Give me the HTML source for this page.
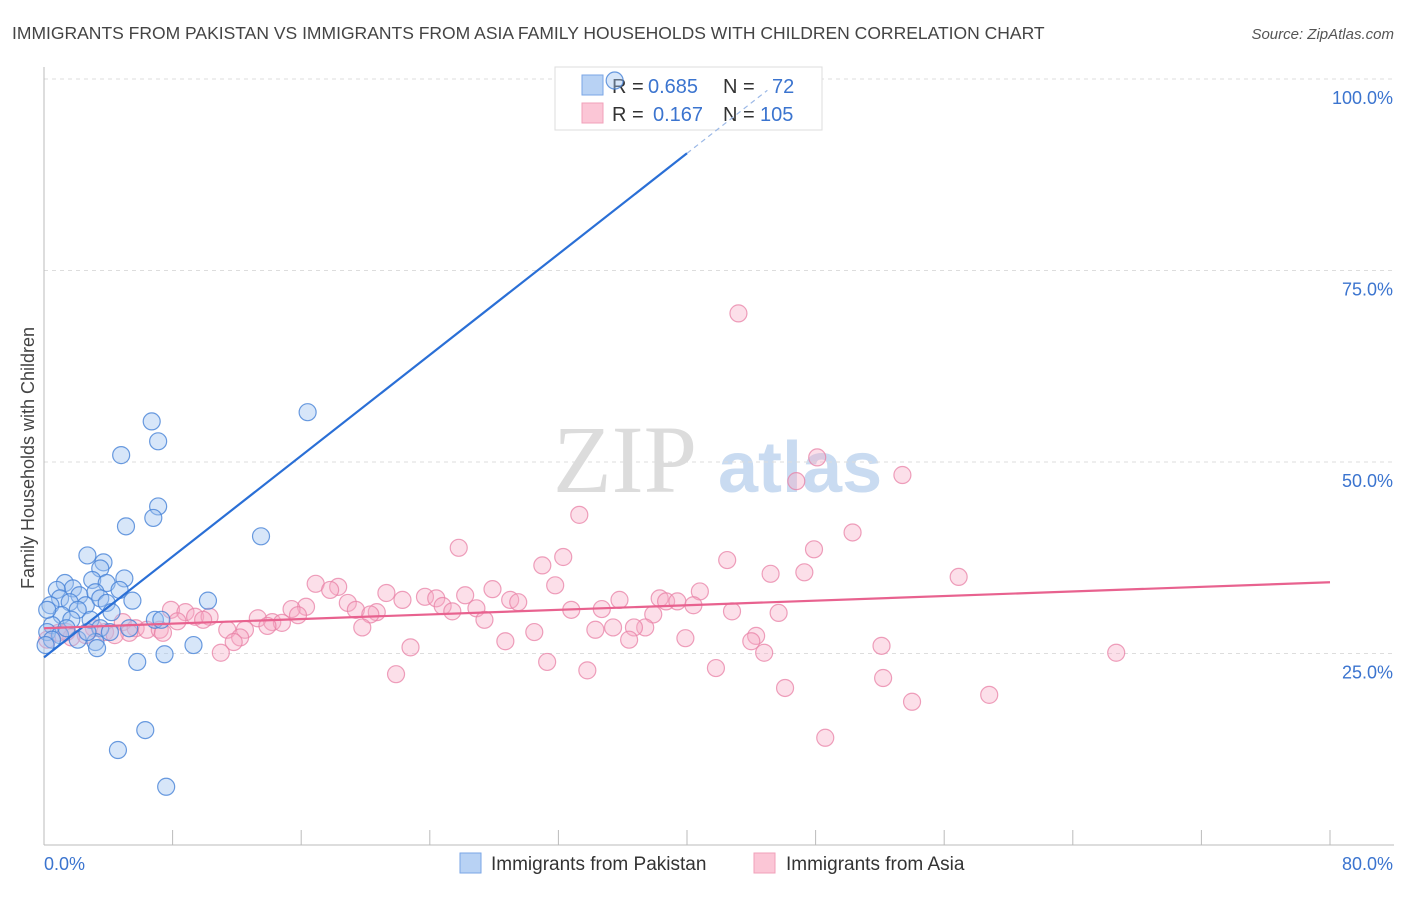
<!DOCTYPE html>
<html><head><meta charset="utf-8">
<style>
body{margin:0;background:#fff;font-family:"Liberation Sans",sans-serif;}
svg text{font-family:"Liberation Sans",sans-serif;}
</style></head>
<body>
<svg id="chart" width="1406" height="892" xmlns="http://www.w3.org/2000/svg">
<text x="12" y="39" font-size="17.5" fill="#444">IMMIGRANTS FROM PAKISTAN VS IMMIGRANTS FROM ASIA FAMILY HOUSEHOLDS WITH CHILDREN CORRELATION CHART</text>
<text x="1394" y="39" font-size="15" fill="#555" text-anchor="end" font-style="italic">Source: ZipAtlas.com</text>
<g>
<text x="553" y="492" font-size="96" fill="#dcdcdc" style="font-family:'Liberation Serif',serif">ZIP</text>
<text x="718" y="492" font-size="72" fill="#c9dbf1" font-weight="bold">atlas</text>
</g>
<g id="grid"></g>
<g id="axes"></g>
<g>
<rect x="555" y="67" width="267" height="63" fill="#fff" stroke="#ddd"/>
<rect x="582" y="75" width="21" height="20" fill="#b8d2f4" stroke="#7aa6e6"/>
<rect x="582" y="103" width="21" height="20" fill="#fbc6d6" stroke="#f0a0ba"/>
<text x="612" y="93" font-size="20" fill="#333">R = </text><text x="648" y="93" font-size="20" fill="#3b74cf">0.685</text>
<text x="723" y="93" font-size="20" fill="#333">N = </text><text x="772" y="93" font-size="20" fill="#3b74cf">72</text>
<text x="612" y="121" font-size="20" fill="#333">R = </text><text x="653" y="121" font-size="20" fill="#3b74cf">0.167</text>
<text x="723" y="121" font-size="20" fill="#333">N = </text><text x="760" y="121" font-size="20" fill="#3b74cf">105</text>
</g>
<g id="pts"></g>
<g id="lines"></g>
<text transform="translate(34,458) rotate(-90)" font-size="18" fill="#444" text-anchor="middle">Family Households with Children</text>
<g>
<rect x="460" y="853" width="21" height="20" fill="#b8d2f4" stroke="#7aa6e6"/>
<text x="491" y="870" font-size="19" fill="#333">Immigrants from Pakistan</text>
<rect x="754" y="853" width="21" height="20" fill="#fbc6d6" stroke="#f0a0ba"/>
<text x="786" y="870" font-size="19" fill="#333">Immigrants from Asia</text>
</g>
</svg>
<script>
const blueX=[35.5,16.4,6.7,7.1,4.8,7.1,6.8,5.1,13.5,2.7,3.7,3.5,5.0,3.0,1.3,1.8,0.8,3.9,4.7,2.2,3.2,1.0,1.6,2.6,3.5,5.5,10.2,2.1,3.9,0.4,4.2,1.1,2.9,1.7,6.9,7.3,0.5,3.5,5.3,0.2,1.0,4.1,2.1,0.5,0.1,3.2,3.3,9.3,7.5,5.8,6.3,4.6,7.6,0.2,1.4,2.7];
const blueY=[99.8,56.5,55.3,52.7,50.9,44.2,42.7,41.6,40.3,37.8,36.9,36.1,34.8,34.6,34.2,33.5,33.3,34.2,33.3,32.6,33.0,32.2,31.7,31.3,32.2,31.9,31.9,30.7,31.6,31.3,30.4,30.0,29.4,29.4,29.4,29.4,28.7,28.3,28.3,27.8,27.4,27.8,26.8,26.8,26.1,26.5,25.7,26.1,24.9,23.9,15.0,12.4,7.6,30.7,28.3,27.8];
const pinkX=[43.2,48.1,46.8,53.4,33.3,50.3,25.8,32.3,47.9,42.5,31.0,45.2,47.3,56.9,16.9,18.3,17.8,31.8,27.9,21.3,40.8,26.2,23.7,24.4,22.3,35.8,38.3,38.7,39.4,29.0,29.5,18.9,24.8,16.3,15.4,19.4,20.7,25.4,26.9,32.8,34.7,40.4,42.8,45.7,37.9,15.8,20.3,7.9,8.8,9.4,10.3,13.3,8.3,9.9,27.4,14.2,14.8,13.9,37.4,35.4,19.8,36.7,4.9,5.7,6.4,7.2,12.5,11.4,34.3,30.5,3.1,3.8,5.3,7.4,12.2,0.9,1.7,2.6,4.4,39.9,44.3,44.0,36.4,28.7,11.8,52.1,22.8,44.8,11.0,66.7,31.3,41.8,33.8,21.9,52.2,46.1,58.8,54.0,48.6,0.2,1.4];
const pinkY=[69.4,50.6,47.5,48.3,43.1,40.8,38.8,37.6,38.6,37.2,36.5,35.4,35.6,35.0,34.1,33.7,33.3,33.9,33.4,32.9,33.1,32.6,32.4,32.2,32.0,32.0,32.2,31.8,31.8,32.0,31.7,31.6,31.2,31.1,30.8,30.7,30.4,30.5,30.9,30.7,30.8,31.3,30.5,30.3,30.1,30.0,30.1,30.7,30.4,29.8,29.8,29.6,29.2,29.4,29.4,29.1,29.0,28.6,28.4,28.4,28.4,28.4,29.1,28.3,28.1,28.1,28.1,28.1,28.1,27.8,28.3,27.8,27.7,27.7,27.1,27.7,27.1,27.4,27.4,27.0,27.3,26.6,26.8,26.6,26.5,26.0,25.8,25.1,25.1,25.1,23.9,23.1,22.8,22.3,21.8,20.5,19.6,18.7,14.0,26.8,27.8];
const yTicks=[25,50,75,100];
const yTickLabels=["25.0%","50.0%","75.0%","100.0%"];
const xEnds=[0,80];
const xEndLabels=["0.0%","80.0%"];
const blueTrend=[24.5,90.3];
const pinkTrend=[28.3,34.3];

const NS="http://www.w3.org/2000/svg";
const sx=v=>44+v/80*1286;
const sy=v=>845-v/100*766;
function mk(tag,attrs,parent){const e=document.createElementNS(NS,tag);for(const k in attrs)e.setAttribute(k,attrs[k]);parent.appendChild(e);return e;}
const grid=document.getElementById('grid'),axes=document.getElementById('axes'),pts=document.getElementById('pts'),lines=document.getElementById('lines');
yTicks.forEach((t,i)=>{
  const g=mk('line',{x1:44,x2:1394,y1:sy(t),y2:sy(t),stroke:'#ddd','stroke-dasharray':'4,4'},grid);
  
  
  const tx=mk('text',{x:1393,y:sy(t)+25,'font-size':18,fill:'#3b74cf','text-anchor':'end'},axes);
  tx.textContent=yTickLabels[i];
  
  
});
const ya=mk('line',{x1:44,x2:44,y1:67,y2:845,stroke:'#bbb'},axes);


const xa=mk('line',{x1:44,x2:1394,y1:845,y2:845,stroke:'#bbb'},axes);


for(let i=0;i<=10;i++){
  const tk=mk('line',{x1:sx(i*8),x2:sx(i*8),y1:830,y2:845,stroke:'#bbb'},axes);
  
  
}
xEnds.forEach((v,i)=>{
  const tx=mk('text',{x:i?1393:44,y:870,'font-size':18,fill:'#3b74cf','text-anchor':i?'end':'start'},axes);
  tx.textContent=xEndLabels[i];
  
  
});
pinkX.forEach((x,i)=>{
  const c=mk('circle',{cx:sx(x),cy:sy(pinkY[i]),r:8.5,fill:'rgba(246,170,196,0.38)',stroke:'rgba(232,128,165,0.75)','stroke-width':1.2},pts);
  
  
});
blueX.forEach((x,i)=>{
  const c=mk('circle',{cx:sx(x),cy:sy(blueY[i]),r:8.5,fill:'rgba(160,196,240,0.42)',stroke:'rgba(70,130,215,0.8)','stroke-width':1.2},pts);
  
  
});
const bslope=(blueTrend[1]-blueTrend[0])/40;
const bl=mk('line',{x1:sx(0),y1:sy(blueTrend[0]),x2:sx(40),y2:sy(blueTrend[1]),stroke:'#2a6fd6','stroke-width':2.2},lines);


const bd=mk('line',{x1:sx(40),y1:sy(blueTrend[1]),x2:sx(45),y2:sy(blueTrend[0]+45*bslope),stroke:'#9bb8e6','stroke-width':1.2,'stroke-dasharray':'5,4'},lines);


const pl=mk('line',{x1:sx(0),y1:sy(pinkTrend[0]),x2:sx(80),y2:sy(pinkTrend[1]),stroke:'#e8628f','stroke-width':2.2},lines);


</script>
</body></html>
